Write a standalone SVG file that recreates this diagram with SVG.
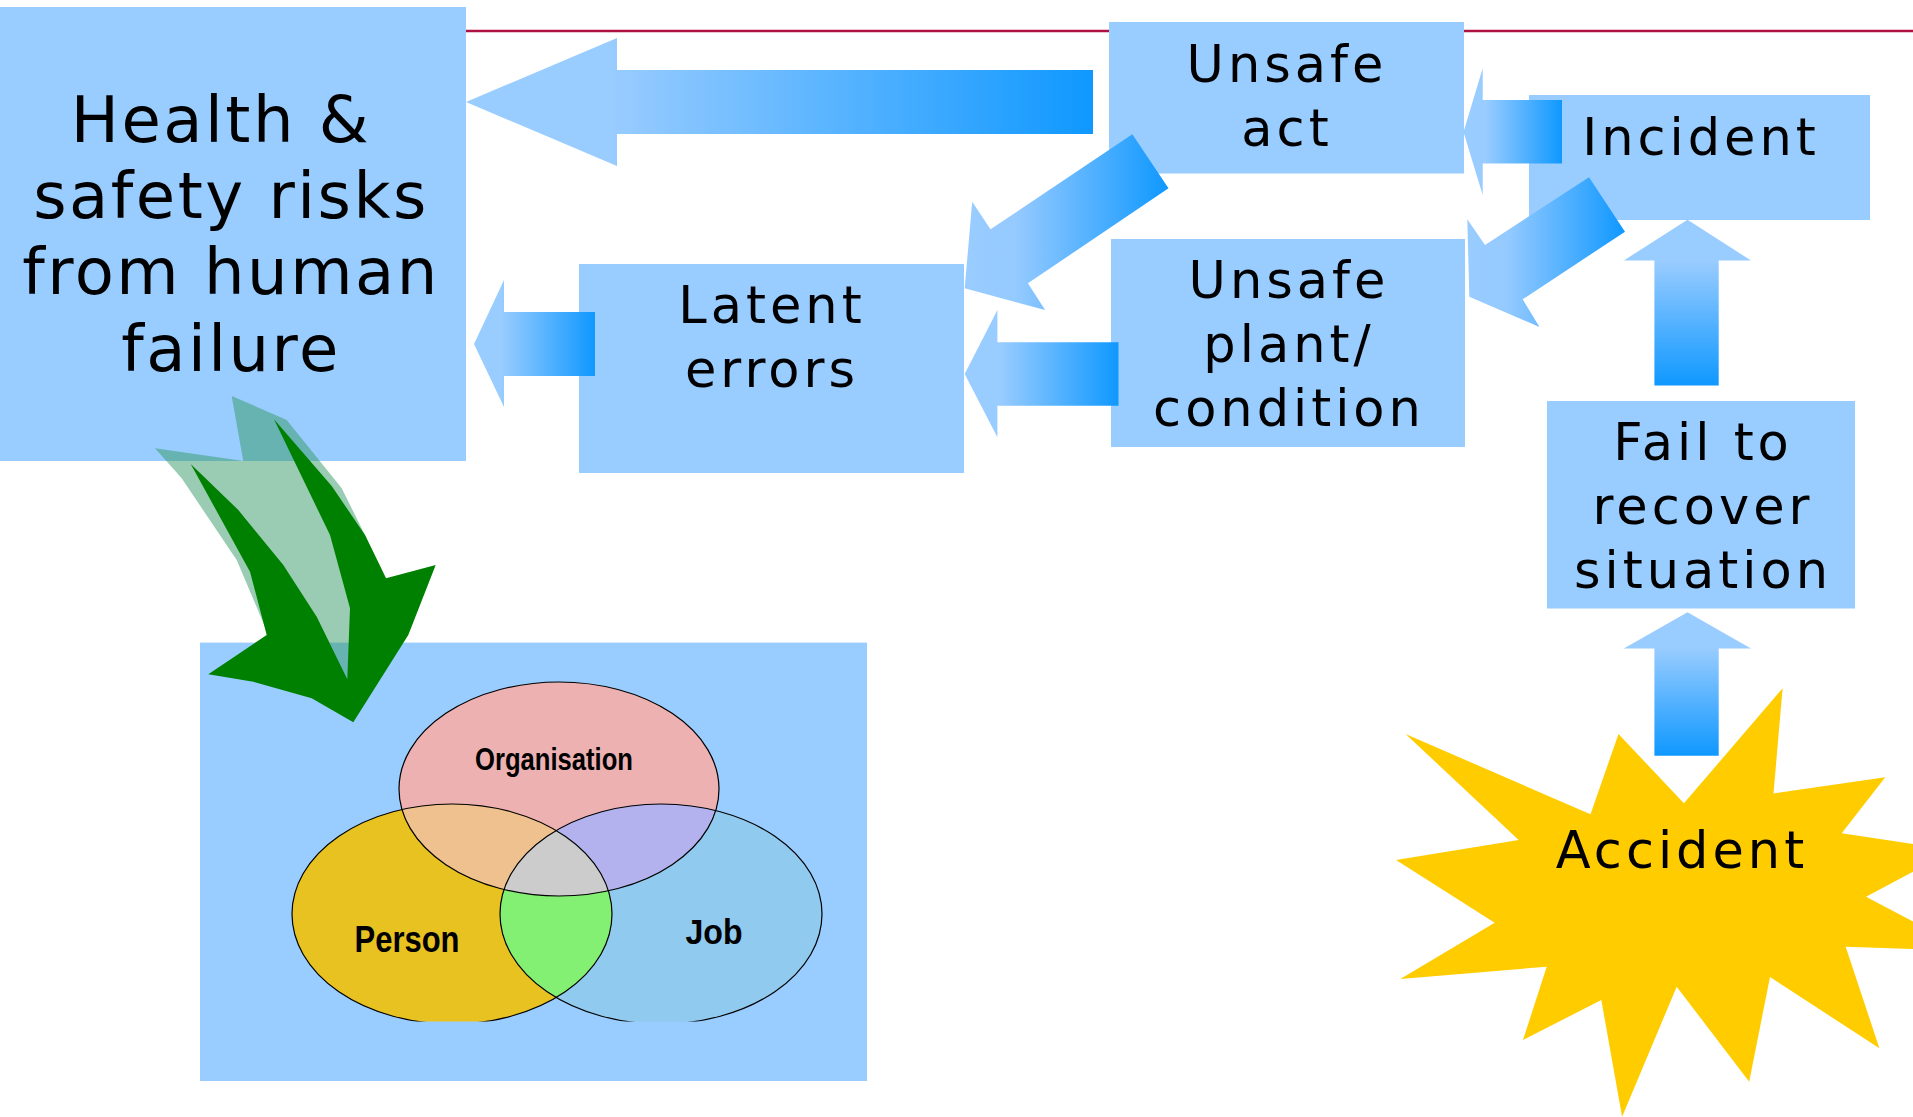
<svg xmlns="http://www.w3.org/2000/svg" width="1913" height="1117" viewBox="0 0 1913 1117">
<defs>
<style>
.box{fill:#99CCFF}
.t{font-family:"DejaVu Sans",Verdana,sans-serif;font-size:51px;letter-spacing:4px;fill:#000;text-anchor:middle}
.th{font-family:"DejaVu Sans",Verdana,sans-serif;font-size:64px;letter-spacing:2.5px;fill:#000;text-anchor:middle}
.v{font-family:"Liberation Sans",Arial,sans-serif;font-weight:bold;fill:#000;text-anchor:middle}
.ol{fill:none;stroke:#000;stroke-width:1.2}
</style>
<linearGradient id="gL" x1="1" y1="0" x2="0" y2="0">
<stop offset="0" stop-color="#0F98FF"/>
<stop offset="0.77" stop-color="#99CCFF"/>
<stop offset="1" stop-color="#99CCFF"/>
</linearGradient>
<linearGradient id="gD" x1="0" y1="0" x2="1" y2="0">
<stop offset="0" stop-color="#99CCFF"/>
<stop offset="0.25" stop-color="#95CAFF"/>
<stop offset="1" stop-color="#0F98FF"/>
</linearGradient>
<linearGradient id="gU" x1="0" y1="0" x2="0" y2="1">
<stop offset="0" stop-color="#99CCFF"/>
<stop offset="0.25" stop-color="#99CCFF"/>
<stop offset="1" stop-color="#0F98FF"/>
</linearGradient>
<clipPath id="cBot"><rect x="0" y="0" width="1913" height="1021.5"/></clipPath>
<clipPath id="cOrg"><ellipse cx="559" cy="789" rx="160" ry="107"/></clipPath>
<clipPath id="cPer"><ellipse cx="452" cy="914" rx="160" ry="110"/></clipPath>
<clipPath id="cJob"><ellipse cx="661" cy="914" rx="161" ry="110"/></clipPath>
</defs>
<rect width="1913" height="1117" fill="#FFFFFF"/>
<line x1="466" y1="31" x2="1913" y2="31" stroke="#AE1040" stroke-width="2.5"/>

<g id="health">
<rect class="box" x="0" y="7" width="466" height="454"/>
<text class="th" x="221" y="142">Health &amp;</text>
<text class="th" x="231" y="218">safety risks</text>
<text class="th" x="231" y="294">from human</text>
<text class="th" x="231" y="371">failure</text>
</g>
<g id="unsafe-act">
<rect class="box" x="1109" y="22" width="355" height="151.5"/>
<text class="t" x="1287" y="82">Unsafe</text>
<text class="t" x="1287" y="146">act</text>
</g>
<g id="incident">
<rect class="box" x="1529" y="95" width="341" height="125"/>
<text class="t" x="1701" y="155">Incident</text>
</g>
<g id="latent">
<rect class="box" x="579" y="264" width="385" height="209"/>
<text class="t" x="772" y="323">Latent</text>
<text class="t" x="772" y="387">errors</text>
</g>
<g id="unsafe-plant">
<rect class="box" x="1111" y="239" width="354" height="208"/>
<text class="t" x="1289" y="298">Unsafe</text>
<text class="t" x="1289" y="362">plant/</text>
<text class="t" x="1289" y="426">condition</text>
</g>
<g id="fail">
<rect class="box" x="1547" y="401" width="308" height="207.5"/>
<text class="t" x="1703" y="460">Fail to</text>
<text class="t" x="1703" y="524">recover</text>
<text class="t" x="1703" y="588">situation</text>
</g>
<g id="accident">
<polygon fill="#FFCC00" points="1405.6,734 1590.5,814.3 1618.5,734 1683.9,803.3 1782.6,688.3 1773.5,793.5 1885.3,777.3 1841.7,833.3 1954,850 1866,896.7 1969,951 1845.7,946.7 1879.4,1048.3 1770,977 1749.2,1081.7 1676.7,986.7 1622.1,1116.7 1601.3,1000 1523,1040 1546.7,966.7 1400.3,979 1494.7,922.7 1396,860 1518.7,840"/>
<text class="t" x="1682" y="868">Accident</text>
</g>
<g id="venn">
<rect class="box" x="200" y="642.6" width="667" height="438.4"/>
<g clip-path="url(#cBot)">
<ellipse cx="559" cy="789" rx="160" ry="107" fill="#EEB1B1"/>
<ellipse cx="452" cy="914" rx="160" ry="110" fill="#E8C221"/>
<ellipse cx="661" cy="914" rx="161" ry="110" fill="#90CAEE"/>
<g clip-path="url(#cOrg)"><ellipse cx="452" cy="914" rx="160" ry="110" fill="#EFC18F"/></g>
<g clip-path="url(#cOrg)"><ellipse cx="661" cy="914" rx="161" ry="110" fill="#B3B2EE"/></g>
<g clip-path="url(#cPer)"><ellipse cx="661" cy="914" rx="161" ry="110" fill="#83EF73"/></g>
<g clip-path="url(#cOrg)"><g clip-path="url(#cPer)"><ellipse cx="661" cy="914" rx="161" ry="110" fill="#CCCCCC"/></g></g>
<ellipse class="ol" cx="559" cy="789" rx="160" ry="107"/>
<ellipse class="ol" cx="452" cy="914" rx="160" ry="110"/>
<ellipse class="ol" cx="661" cy="914" rx="161" ry="110"/>
</g>
<text class="v" x="554" y="770" font-size="31" textLength="158" lengthAdjust="spacingAndGlyphs">Organisation</text>
<text class="v" x="407" y="952" font-size="36" textLength="105" lengthAdjust="spacingAndGlyphs">Person</text>
<text class="v" x="714" y="944" font-size="35" textLength="57" lengthAdjust="spacingAndGlyphs">Job</text>
</g>

<g id="connectors">
<polygon fill="url(#gL)" points="466,102 617,38 617,70 1093,70 1093,134 617,134 617,166"/>
<polygon fill="url(#gL)" points="474,344 504,280 504,312 595,312 595,376 504,376 504,407"/>
<polygon fill="url(#gL)" points="964.7,374 997.4,310 997.4,342.3 1118.5,342.3 1118.5,405.7 997.4,405.7 997.4,437.3"/>
<polygon fill="url(#gL)" points="1463.5,132 1482.7,68.3 1482.7,100 1562,100 1562,163.5 1482.7,163.5 1482.7,195"/>
<polygon fill="url(#gD)" points="964.7,288.3 972.2,201.7 990.5,229.3 1132.3,134.3 1168.5,188.3 1027.9,283.3 1045.1,310"/>
<polygon fill="url(#gD)" points="1469.3,296.7 1467.3,219.3 1485,245 1589,177.3 1625,231.7 1522.7,299.3 1539.5,327"/>
<polygon fill="url(#gU)" points="1687.5,219.7 1751,260.5 1718.7,260.5 1718.7,385.5 1654.4,385.5 1654.4,260.5 1623.8,260.5"/>
<polygon fill="url(#gU)" points="1687.5,612.3 1751,648.5 1718.7,648.5 1718.7,755.7 1654.4,755.7 1654.4,648.5 1623.8,648.5"/>
<g id="green-arrow">
<polygon fill="#339966" fill-opacity="0.5" points="231.7,396 286.7,420 341.7,488.3 365,535 386,578.3 380,640 350,690 300,660 265,626.7 236.7,560 181.7,478.3 155,448.3 243.3,461"/>
<polygon fill="#008000" points="190.7,464 238.3,510 283.3,565 316.7,616.7 347.3,679.3 350,608.3 330,535 274,419.3 331.7,486 365,535 386,578.3 435.7,565 408.3,635 353.3,722.3 311.7,698.3 253.3,681.7 208.3,674.3 266.7,635 250,571.7"/>
</g>
</g>
</svg>
